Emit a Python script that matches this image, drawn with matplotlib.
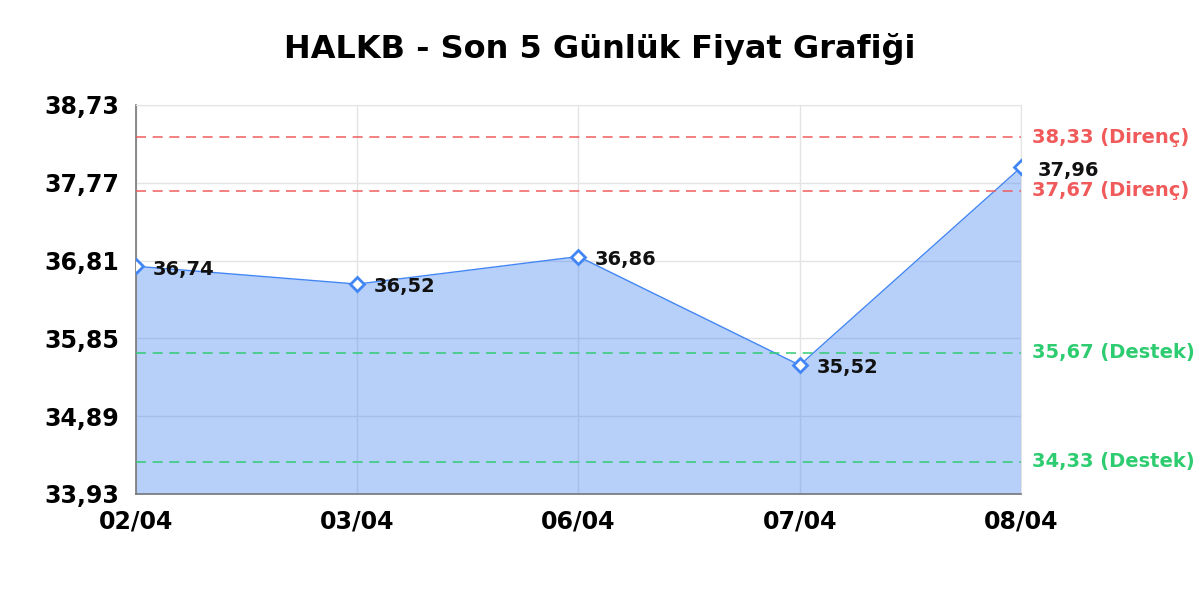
import numpy as np
import matplotlib
matplotlib.use("Agg")
from matplotlib import pyplot as plt

dates = ["02/04", "03/04", "06/04", "07/04", "08/04"]
prices = [36.74, 36.52, 36.86, 35.52, 37.96]
resistance = [38.33, 37.67]
support = [35.67, 34.33]
y_ticks = [33.93, 34.89, 35.85, 36.81, 37.77, 38.73]

blue = "#4285f4"
red = "#f05a5a"
green = "#2ecc71"


def tr(v):
    return f"{v:.2f}".replace(".", ",")


plt.rcParams['font.family'] = ['DejaVu Sans']
fig = plt.figure(figsize=(12, 6), dpi=100)
ax = fig.add_axes([0.1133, 0.1767, 0.7375, 0.6483])

x = np.arange(len(dates))
ax.set_xlim(0, len(dates) - 1)
ax.set_ylim(y_ticks[0], y_ticks[-1])

ax.grid(True, color="#e4e4e4", linewidth=1)
ax.set_axisbelow(True)

ax.fill_between(x, prices, y_ticks[0], color=blue, alpha=0.38, linewidth=0, zorder=2)
ax.plot(x, prices, color=blue, linewidth=1, zorder=3)
ax.plot(x, prices, linestyle="none", marker="D", markersize=7,
        markerfacecolor="white", markeredgecolor=blue, markeredgewidth=2, zorder=5)

for xi, p in zip(x, prices):
    ax.annotate(tr(p), (xi, p), xytext=(12, -2), textcoords="offset points",
                ha="left", va="center", fontsize=14, fontweight="bold", color="#111111", zorder=6)

for lvl in resistance:
    ax.axhline(lvl, color=red, linestyle=(0, (6, 4)), linewidth=1.2, alpha=0.9, zorder=4)
    ax.text(1.013, lvl, f"{tr(lvl)} (Direnç)", transform=ax.get_yaxis_transform(),
            ha="left", va="center", fontsize=14, fontweight="bold", color=red)
for lvl in support:
    ax.axhline(lvl, color=green, linestyle=(0, (6, 4)), linewidth=1.2, alpha=0.9, zorder=4)
    ax.text(1.013, lvl, f"{tr(lvl)} (Destek)", transform=ax.get_yaxis_transform(),
            ha="left", va="center", fontsize=14, fontweight="bold", color=green)

ax.set_xticks(x)
ax.set_xticklabels(dates, fontsize=17, fontweight="bold")
ax.set_yticks(y_ticks)
ax.set_yticklabels([tr(v) for v in y_ticks], fontsize=17, fontweight="bold")
ax.tick_params(length=0, pad=12)
ax.tick_params(axis="x", pad=11)

for side in ["top", "right"]:
    ax.spines[side].set_color("#e4e4e4")
for side in ["left", "bottom"]:
    ax.spines[side].set_color("#777777")
    ax.spines[side].set_linewidth(1.2)

fig.suptitle("HALKB - Son 5 Günlük Fiyat Grafiği", x=0.5, y=0.945,
             fontsize=23, fontweight="bold")

fig.savefig("out.png", dpi=100, facecolor="white")
